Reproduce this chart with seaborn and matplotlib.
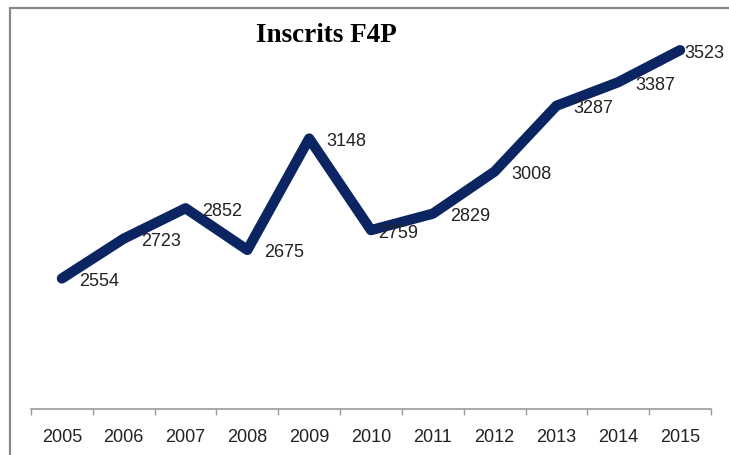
import pandas as pd
import matplotlib.pyplot as plt
import seaborn as sns
from matplotlib.lines import Line2D

# data
years = ["2005", "2006", "2007", "2008", "2009", "2010",
         "2011", "2012", "2013", "2014", "2015"]
inscrits = [2554, 2723, 2852, 2675, 3148, 2759, 2829, 3008, 3287, 3387, 3523]
# horizontal gap (px) between point and its label
label_gap = [17, 17, 17, 17, 17, 7, 17, 17, 17, 17, 4]

df = pd.DataFrame({"annee": years, "inscrits": inscrits})

sns.set_style("white")
plt.rcParams["font.family"] = ["Liberation Sans", "DejaVu Sans"]

W, H = 729, 455
fig = plt.figure(figsize=(W / 100, H / 100), dpi=100)
ax = fig.add_axes([31 / W, (H - 409) / H, 680 / W, (409 - 32) / H])

navy = "#0b2563"
sns.lineplot(data=df, x="annee", y="inscrits", ax=ax, color=navy,
             linewidth=7.4, solid_capstyle="round", solid_joinstyle="round")

# value labels to the right of each point
for i, v in enumerate(inscrits):
    ax.annotate(str(v), (i, v), xytext=(label_gap[i], -7.5), textcoords="offset pixels",
                ha="left", va="baseline", fontsize=13, color="#222222",
                annotation_clip=False)

ax.set_xlim(-0.5, len(years) - 0.5)
ax.set_ylim(2000, 3600)
ax.set_xlabel("")
ax.set_ylabel("")
ax.set_yticks([])

# category axis: tick marks between categories
ax.set_xticks(range(len(years)))
ax.set_xticklabels(years, fontsize=13, color="#222222")
ax.set_xticks([i - 0.5 for i in range(len(years) + 1)], minor=True)
ax.tick_params(axis="x", which="major", length=0, pad=14.5)
ax.tick_params(axis="x", which="minor", length=4.5, width=1, color="#9a9a9a",
               direction="out", bottom=True)

for s in ["top", "right", "left"]:
    ax.spines[s].set_visible(False)
ax.spines["bottom"].set_color("#9a9a9a")
ax.spines["bottom"].set_linewidth(1.2)

# title
fig.text(326 / W, 1 - 42 / H, "Inscrits F4P", ha="center", va="baseline",
         fontsize=19.5, fontweight="bold", color="black",
         family=["Liberation Serif", "DejaVu Serif"])

# outer frame (only left and top visible)
fig.add_artist(Line2D([9.5 / W, 9.5 / W], [0, 1 - 7.5 / H], color="#888888", linewidth=1.6))
fig.add_artist(Line2D([9.5 / W, 1], [1 - 7.5 / H, 1 - 7.5 / H], color="#888888", linewidth=1.6))

fig.savefig("out.png", dpi=100)
plt.close(fig)
